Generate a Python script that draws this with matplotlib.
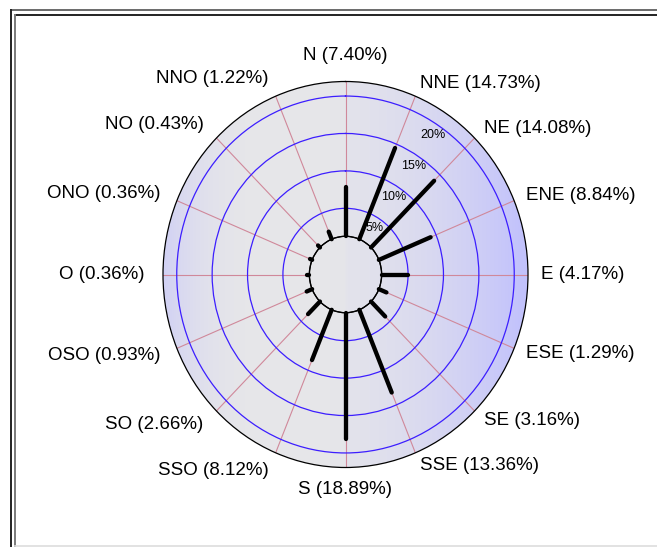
import numpy as np
import matplotlib
matplotlib.use("Agg")
import matplotlib.pyplot as plt
from matplotlib.patches import Circle
from matplotlib.lines import Line2D

# Wind direction frequencies (%)
directions = ["N", "NNE", "NE", "ENE", "E", "ESE", "SE", "SSE",
              "S", "SSO", "SO", "OSO", "O", "ONO", "NO", "NNO"]
frequency = [7.40, 14.73, 14.08, 8.84, 4.17, 1.29, 3.16, 13.36,
             18.89, 8.12, 2.66, 0.93, 0.36, 0.36, 0.43, 1.22]
ring_levels = [5, 10, 15, 20]
ring_labels = ["5%", "10%", "15%", "20%"]

W, H, DPI = 657, 547, 100
fig = plt.figure(figsize=(W / DPI, H / DPI), dpi=DPI)
fig.patch.set_facecolor("white")
plt.rcParams["font.family"] = ["Liberation Sans", "DejaVu Sans"]

# axes box placed so the centre falls on a pixel centre (crisp N-S / E-O spokes)
rect = [163 / W, 79.5 / H, 365 / W, 386 / H]

# ---- shaded disc behind the rose ----
bg = fig.add_axes(rect, zorder=0)
bg.set_axis_off()
bg.set_xlim(-1, 1)
bg.set_ylim(-1, 1)
u = np.linspace(-1, 1, 800)
u0 = -0.3
w = np.where(u >= u0, ((u - u0) / (1 - u0)) ** 2, 0.6 * ((u0 - u) / (1 + u0)) ** 3)
w = np.clip(w + np.where(u > 0, 0.05, 0.0), 0, 1)
grey = np.array([231, 231, 233]) / 255
lav = np.array([194, 194, 252]) / 255
cols = grey[None, :] * (1 - w[:, None]) + lav[None, :] * w[:, None]
img = np.tile(cols[None, :, :], (2, 1, 1))
im = bg.imshow(img, extent=(-1, 1, -1, 1), aspect="auto", interpolation="bilinear")
im.set_clip_path(Circle((0, 0), 1, transform=bg.transData))

# ---- polar rose ----
ax = fig.add_axes(rect, projection="polar", zorder=1)
ax.set_aspect("auto")
ax.set_facecolor("none")
ax.set_theta_zero_location("N")
ax.set_theta_direction(-1)

R_MAX = 23.1
R_HOLE = 5.7
ax.set_ylim(0, R_MAX)
ax.set_rorigin(-R_HOLE)
SPAN = R_MAX + R_HOLE

angles_deg = np.arange(len(directions)) * 22.5
theta = np.deg2rad(angles_deg)

ax.set_thetagrids(angles_deg, labels=[""] * len(directions))
ring_r = [1.117 * lv - 1.41 for lv in ring_levels]
ax.set_rgrids(ring_r, labels=[""] * len(ring_levels))
ax.xaxis.grid(True, color="#d0889a", lw=0.8)
ax.yaxis.grid(True, color="#3c1eff", lw=0.9)
ax.tick_params(length=0, pad=0)
ax.spines["polar"].set_color("black")
ax.spines["polar"].set_linewidth(0.9)
ax.spines["inner"].set_color("black")
ax.spines["inner"].set_linewidth(0.9)

# hole outline
circ = np.linspace(0, 2 * np.pi, 400)
ax.plot(circ, np.zeros_like(circ), color="black", lw=0.9, clip_on=False, zorder=2)

# bars
for t, v in zip(theta, frequency):
    ax.plot([t, t], [0, v], color="black", lw=3.1, solid_capstyle="round",
            clip_on=False, zorder=3)

# ring labels
ring_label_angle = np.deg2rad(33.5)
for r, lab in zip(ring_r, ring_labels):
    ax.text(ring_label_angle, r - 0.055 * SPAN, lab, fontsize=9,
            ha="center", va="center", color="black", zorder=4)

# direction labels
for t, name, v in zip(theta, directions, frequency):
    s, c = np.sin(t), np.cos(t)
    if s > 0.01:
        ha, k = "left", 1.07
    elif s < -0.01:
        ha, k = "right", 1.10
    else:
        ha, k = "center", 1.07
    if abs(s) < 0.01:
        va = "bottom" if c > 0 else "top"
        k = 1.09 if c > 0 else 1.07
    else:
        va = "center"
    ax.text(t, k * SPAN - R_HOLE, f"{name} ({v:.2f}%)", fontsize=13.5,
            ha=ha, va=va, color="black")

# ---- frame ----
def px_line(x0, y0, x1, y1, color, lw):
    fig.add_artist(Line2D([x0 / W, x1 / W], [1 - y0 / H, 1 - y1 / H],
                          transform=fig.transFigure, color=color, lw=lw))

px_line(11, 10, W, 10, "#6a6a6a", 1.4)
px_line(11, 10, 11, H, "#222222", 1.4)
px_line(15, 14.5, W, 14.5, "#222222", 1.4)
px_line(15, 14.5, 15, H, "#7a7a7a", 1.4)
px_line(15, 546, W, 546, "#dddddd", 1.2)

fig.savefig("out.png", dpi=DPI)
